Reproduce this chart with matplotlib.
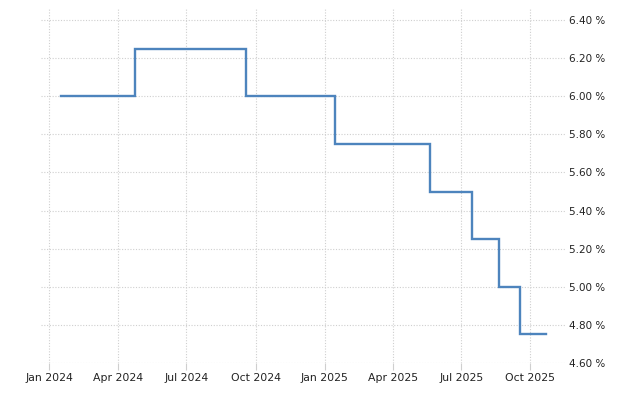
import matplotlib
matplotlib.use("Agg")
import matplotlib.pyplot as plt
import matplotlib.dates as mdates
import numpy as np
from datetime import datetime

# policy meeting dates and rate (%)
dates = ["2024-01-17", "2024-02-21", "2024-03-20", "2024-04-24", "2024-05-22",
         "2024-06-20", "2024-07-17", "2024-08-21", "2024-09-18", "2024-10-16",
         "2024-11-20", "2024-12-18", "2025-01-15", "2025-02-19", "2025-03-19",
         "2025-04-23", "2025-05-21", "2025-06-18", "2025-07-16", "2025-08-20",
         "2025-09-17", "2025-10-22"]
rate = [6.00, 6.00, 6.00, 6.25, 6.25, 6.25, 6.25, 6.25, 6.00, 6.00, 6.00,
        6.00, 5.75, 5.75, 5.75, 5.75, 5.50, 5.50, 5.25, 5.00, 4.75, 4.75]
x_ticks = ["2024-01-01", "2024-04-01", "2024-07-01", "2024-10-01",
           "2025-01-01", "2025-04-01", "2025-07-01", "2025-10-01"]
y_ticks = [4.6, 4.8, 5.0, 5.2, 5.4, 5.6, 5.8, 6.0, 6.2, 6.4]

d = [datetime.strptime(s, "%Y-%m-%d") for s in dates]

fig = plt.figure(figsize=(6.4, 4.0), dpi=100)
ax = fig.add_axes([0.064, 0.0925, 0.819, 0.8875])

ax.step(d, rate, where="post", color="#4d84bd", lw=1.7, solid_joinstyle="miter")

ax.set_xlim(datetime(2023, 12, 21), datetime(2025, 11, 16))
ax.set_ylim(4.60, 6.463)

ax.set_xticks([datetime.strptime(s, "%Y-%m-%d") for s in x_ticks])
ax.xaxis.set_major_formatter(mdates.DateFormatter("%b %Y"))
ax.set_yticks(y_ticks)
ax.set_yticklabels(["%.2f %%" % v for v in y_ticks])
ax.yaxis.tick_right()

ax.grid(True, color="#cfcfcf", linestyle=(0, (1, 1.5)), lw=0.8)
for s in ax.spines.values():
    s.set_visible(False)
ax.tick_params(axis="x", length=5, color="#cfcfcf", labelsize=7.8, pad=2, labelcolor="#222222")
ax.tick_params(axis="y", length=0, labelsize=7.5, pad=3, labelcolor="#222222")

fig.savefig("out.png", dpi=100, facecolor="white")
